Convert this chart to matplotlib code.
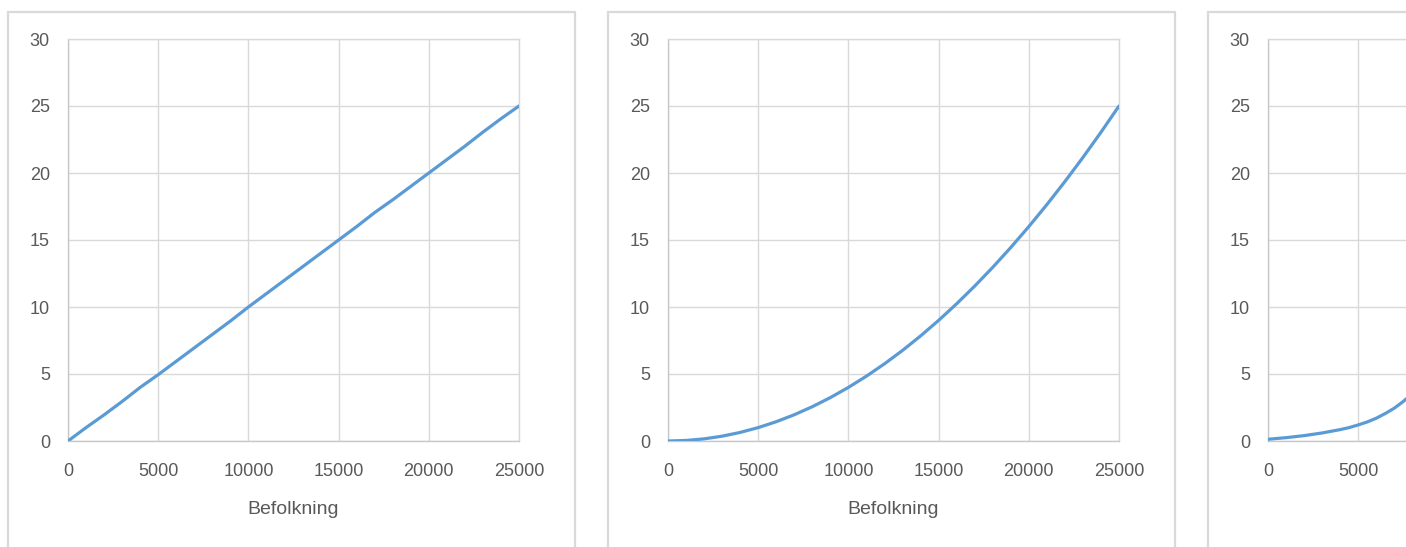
import matplotlib
matplotlib.use('Agg')
import matplotlib.pyplot as plt
from matplotlib.patches import Rectangle

W, H = 1406, 547
GRID = '#D9D9D9'
TEXT = '#595959'
LINE = '#5B9BD5'
FONT = 'Liberation Sans'

# population (x) and values
befolkning = [0, 1000, 2000, 3000, 4000, 5000, 6000, 7000, 8000, 9000, 10000,
              11000, 12000, 13000, 14000, 15000, 16000, 17000, 18000, 19000,
              20000, 21000, 22000, 23000, 24000, 25000]
linear = [0, 1.0, 1.95, 2.95, 4.0, 4.95, 5.95, 6.95, 7.95, 8.95, 10.0,
          11.0, 12.0, 13.0, 14.0, 15.0, 16.0, 17.05, 18.0, 19.0,
          20.0, 21.0, 22.0, 23.05, 24.05, 25.0]
quadratic = [0, 0.04, 0.16, 0.36, 0.64, 1.0, 1.44, 1.96, 2.56, 3.24, 4.0,
             4.84, 5.76, 6.76, 7.84, 9.0, 10.24, 11.56, 12.96, 14.44,
             16.0, 17.64, 19.36, 21.16, 23.04, 25.0]
befolkning3 = [0, 1000, 2000, 3000, 4000, 4500, 5000, 5500, 6000, 6500,
               7000, 7500, 8000, 9000]
steep = [0.13, 0.25, 0.4, 0.6, 0.85, 1.0, 1.2, 1.42, 1.7, 2.05,
         2.45, 2.95, 3.55, 5.1]

series = [(befolkning, linear), (befolkning, quadratic), (befolkning3, steep)]
xticks = [0, 5000, 10000, 15000, 20000, 25000]
yticks = [0, 5, 10, 15, 20, 25, 30]

fig = plt.figure(figsize=(W / 100, H / 100), dpi=100)
fig.patch.set_facecolor('white')

for i, (xs, ys) in enumerate(series):
    off = i * 600
    # chart frame
    fig.patches.append(Rectangle(((8 + off) / W, -0.1), 567 / W, (547 - 12) / H + 0.1,
                                 transform=fig.transFigure, facecolor='none',
                                 edgecolor=GRID, linewidth=1.6))
    ax = fig.add_axes([(68 + off) / W, (547 - 441) / H, 451 / W, 402 / H])
    ax.plot(xs, ys, color=LINE, linewidth=2.3, solid_capstyle='round', zorder=3)
    ax.set_xlim(0, 25000)
    ax.set_ylim(0, 30)
    ax.set_xticks(xticks)
    ax.set_yticks(yticks)
    ax.grid(True, color=GRID, linewidth=1)
    for s in ax.spines.values():
        s.set_color(GRID)
        s.set_linewidth(1)
    ax.spines['left'].set_color('#C8C8C8')
    ax.spines['bottom'].set_color('#C8C8C8')
    ax.tick_params(length=0, colors=TEXT, labelsize=13)
    ax.tick_params(axis='x', pad=16)
    ax.tick_params(axis='y', pad=13)
    for lab in ax.get_xticklabels() + ax.get_yticklabels():
        lab.set_fontfamily(FONT)
    if i < 2:
        ax.set_xlabel('Befolkning', fontsize=14, color=TEXT, fontfamily=FONT, labelpad=15)
    else:
        # the third chart runs past the right edge; only its first ticks show
        ax.set_xticklabels(['0', '5000', '', '', '', ''])

fig.savefig('out.png', dpi=100, facecolor='white')
